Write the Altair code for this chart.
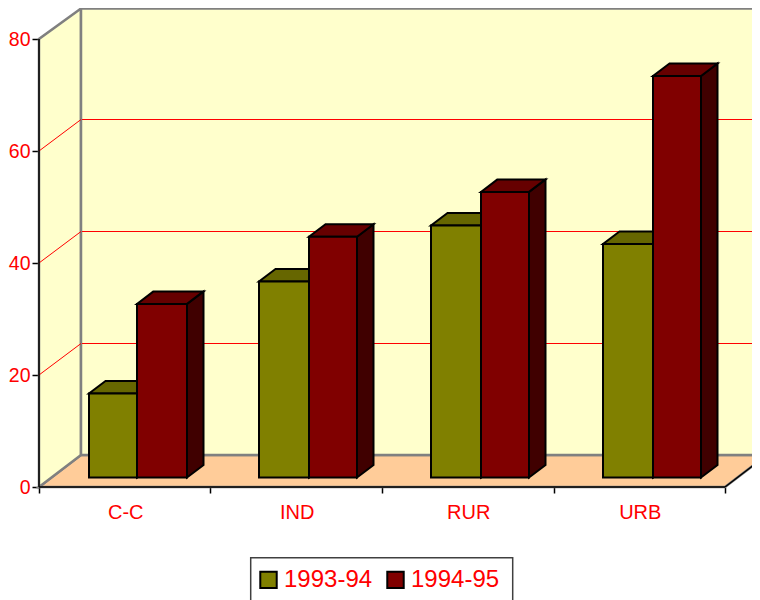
import altair as alt
import pandas as pd

categories = ["C-C", "IND", "RUR", "URB"]
series = ["1993-94", "1994-95"]
values_a = [15, 35, 45, 41.7]
values_b = [31, 43, 51, 71.7]
y_ticks = [0, 20, 40, 60, 80]
x_ticks = [0, 1, 2, 3, 4]

FONT = "Liberation Sans"
FRONT = {"1993-94": "#808000", "1994-95": "#800000"}
TOP = {"1993-94": "#666600", "1994-95": "#660000"}
SIDE = {"1993-94": "#404000", "1994-95": "#400000"}

W, H = 744, 592
X0, Y0 = 31.0, 479.0      # origin of the front plane inside the chart
UX, UY = 171.5, 5.6       # pixels per category, per value unit


def xu(px):
    return px / UX


def yu(px):
    return px / UY


x_scale = alt.Scale(domain=[-X0 / UX, (W - X0) / UX], range=[0, W], nice=False, zero=False)
y_scale = alt.Scale(domain=[-(H - Y0) / UY, Y0 / UY], range=[H, 0], nice=False, zero=False)

x_axis = alt.Axis(values=x_ticks, labels=False, domain=False, grid=False, ticks=True,
                  tickSize=6, tickColor="#000000", tickWidth=1.5, offset=-(H - Y0), title=None)
y_axis = alt.Axis(values=y_ticks, domain=False, grid=False, ticks=True, tickSize=7,
                  tickColor="#000000", tickWidth=1.5, offset=-X0, title=None,
                  labelFont=FONT, labelFontSize=19.5, labelColor="#FF0000", labelPadding=2)

WALL_DX, WALL_DY = xu(42), yu(32)
GRID_DY = yu(31.5)
BAR_DX, BAR_DY = xu(16.5), yu(12.5)
BASE_Y = yu(9.5)
BAR_LEFT = [xu(50), xu(220), xu(392), xu(564)]
BAR_MID = [xu(98), xu(270), xu(442), xu(614)]
BAR_RIGHT = [xu(148), xu(318), xu(490), xu(662)]

X = lambda: alt.X("x:Q", scale=x_scale, axis=x_axis)
Y = lambda: alt.Y("y:Q", scale=y_scale, axis=y_axis)
X2 = alt.X2("x2:Q")
Y2 = alt.Y2("y2:Q")

layers = []

# walls and floor
side_wall = pd.DataFrame({"x": [0, WALL_DX], "y": [0, WALL_DY], "y2": [80, yu(Y0 - 0.5)]})
back_wall = pd.DataFrame({"x": [WALL_DX, xu(W + 10)], "y": [WALL_DY, WALL_DY], "y2": [yu(Y0 - 0.5), yu(Y0 - 0.5)]})
floor = pd.DataFrame({"y": [0, WALL_DY], "x": [0, WALL_DX], "x2": [4, 4 + WALL_DX]})

layers.append(
    alt.Chart(floor).mark_area(orient="horizontal", fill="#FFCC99", stroke="#808080", strokeWidth=2.5).encode(
        x=X(), x2=X2, y=Y())
)
for wall in (side_wall, back_wall):
    layers.append(
        alt.Chart(wall).mark_area(orient="vertical", fill="#FFFFCC", stroke="#808080", strokeWidth=2.5).encode(x=X(), y=Y(), y2=Y2)
    )

# gridlines
grid_levels = [20, 40, 60]
grid_side = pd.DataFrame({"x": [0] * 3, "x2": [WALL_DX] * 3, "y": grid_levels, "y2": [v + GRID_DY for v in grid_levels]})
grid_back = pd.DataFrame({"x": [WALL_DX + xu(1)] * 3, "x2": [xu(W + 10)] * 3, "y": [v + GRID_DY for v in grid_levels],
                          "y2": [v + GRID_DY for v in grid_levels]})
for g in (grid_side, grid_back):
    layers.append(alt.Chart(g).mark_rule(color="#FF0000", strokeWidth=1).encode(x=X(), x2=X2, y=Y(), y2=Y2))

# front axis lines
axis_lines = pd.DataFrame({"x": [0, 0, 4], "x2": [0, 4, 4 + WALL_DX], "y": [0, 0, 0], "y2": [80, 0, WALL_DY]})
layers.append(alt.Chart(axis_lines).mark_rule(color="#000000", strokeWidth=1.5).encode(x=X(), x2=X2, y=Y(), y2=Y2))

# bars
rows = []
for i in range(len(categories)):
    rows.append(dict(series=series[0], cat=categories[i], left=BAR_LEFT[i], right=BAR_MID[i], v=values_a[i]))
    rows.append(dict(series=series[1], cat=categories[i], left=BAR_MID[i], right=BAR_RIGHT[i], v=values_b[i]))

side_rows, top_rows = [], []
for r in rows:
    key = r["series"] + r["cat"]
    y0, y1 = BASE_Y, BASE_Y + r["v"]
    side_rows += [dict(id=key, series=r["series"], x=r["right"], y=y0, y2=y1),
                  dict(id=key, series=r["series"], x=r["right"] + BAR_DX, y=y0 + BAR_DY, y2=y1 + BAR_DY)]
    top_rows += [dict(id=key, series=r["series"], y=y1, x=r["left"], x2=r["right"]),
                 dict(id=key, series=r["series"], y=y1 + BAR_DY, x=r["left"] + BAR_DX, x2=r["right"] + BAR_DX)]
side_df, top_df = pd.DataFrame(side_rows), pd.DataFrame(top_rows)

for s in series:
    layers.append(
        alt.Chart(side_df[side_df.series == s]).mark_area(orient="vertical", fill=SIDE[s], stroke="#000000", strokeWidth=2)
        .encode(x=X(), y=Y(), y2=Y2, detail="id:N")
    )
    layers.append(
        alt.Chart(top_df[top_df.series == s]).mark_area(orient="horizontal", fill=TOP[s], stroke="#000000", strokeWidth=2)
        .encode(x=X(), x2=X2, y=Y(), detail="id:N")
    )

# legend frame
frame = pd.DataFrame({"x": [xu(242.7 - X0)], "x2": [xu(504.7 - X0)], "y": [yu(Y0 - 549.7)], "y2": [yu(Y0 - 610)]})
layers.append(
    alt.Chart(frame).mark_rect(fill="#FFFFFF", stroke="#404040", strokeWidth=1.5).encode(x=X(), x2=X2, y=Y(), y2=Y2)
)

front_df = pd.DataFrame([dict(series=r["series"], x=r["left"], x2=r["right"], y=BASE_Y, y2=BASE_Y + r["v"]) for r in rows])
layers.append(
    alt.Chart(front_df).mark_rect(stroke="#000000", strokeWidth=2).encode(
        x=X(), x2=X2, y=Y(), y2=Y2,
        color=alt.Color("series:N", scale=alt.Scale(domain=series, range=[FRONT[s] for s in series]),
                        legend=alt.Legend(orient="none", legendX=238.5, legendY=549.5, direction="horizontal", title=None,
                                          symbolType="square", symbolSize=270, symbolStrokeColor="#000000", symbolStrokeWidth=2,
                                          labelFont=FONT, labelFontSize=24, labelColor="#FF0000", labelOffset=3.5,
                                          columnPadding=10, padding=10)),
    )
)

# category labels
label_df = pd.DataFrame({"x": [i + 0.5 + xu(1) for i in range(len(categories))], "y": [yu(Y0 - 505)] * len(categories), "t": categories})
layers.append(
    alt.Chart(label_df).mark_text(font=FONT, fontSize=20, color="#FF0000", baseline="middle").encode(x=X(), y=Y(), text="t:N")
)

chart = (
    alt.layer(*layers)
    .properties(width=W, height=H, padding=0, background="#FFFFFF", autosize=alt.AutoSizeParams(type="none"))
    .configure_view(stroke="transparent", strokeWidth=0)
)

chart.save("out.html", embed_options={"renderer": "svg", "actions": False})
